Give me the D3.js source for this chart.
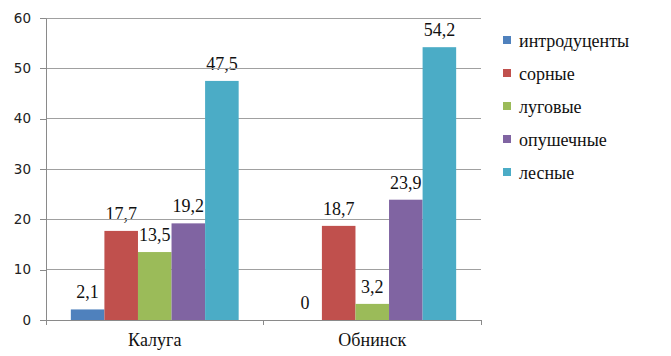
<!DOCTYPE html>
<html>
<head>
<meta charset="utf-8">
<script src="https://cdn.jsdelivr.net/npm/d3@7"></script>
<style>
  body { margin: 0; background: #fff; }
  svg { font-family: "Liberation Serif", "Times New Roman", serif; }
</style>
</head>
<body>
<div id="main"></div>
<script>
var cities = ["Калуга", "Обнинск"];
var groups = ["интродуценты", "сорные", "луговые", "опушечные", "лесные"];
var colors = ["#4F81BD", "#C0504D", "#9BBB59", "#8064A2", "#4BACC6"];
var introduced = [2.1, 0];
var weeds = [17.7, 18.7];
var meadow = [13.5, 3.2];
var forestEdge = [19.2, 23.9];
var forest = [47.5, 54.2];
var yTicks = [0, 10, 20, 30, 40, 50, 60];

var ctx = {
    w: 671,
    h: 356,
    left: 46,
    right: 481,
    top: 18,
    bottom: 320,
    serif: "Liberation Serif",
    sans: "DejaVu Sans"
};

var seriesValues = [introduced, weeds, meadow, forestEdge, forest];

// flat list: one item per city/group pair
var cells = [];
cities.forEach(function(c, ci){
    groups.forEach(function(g, gi){
        cells.push({city: c, group: g, value: seriesValues[gi][ci], color: colors[gi]});
    });
});

var svgEl = d3.select("#main").append("svg")
    .attr("width", ctx.w)
    .attr("height", ctx.h);

var y = d3.scaleLinear().domain([0, 60]).range([ctx.bottom, ctx.top]);
var x0 = d3.scaleBand().domain(cities).range([ctx.left, ctx.right]);
var x1 = d3.scaleBand().domain(groups).range([0, x0.bandwidth()]).paddingOuter(0.74);
var legY = d3.scalePoint().domain(groups).range([40, 172]);

// all serif text first (labels never sit on top of the bars)
svgEl.append("g").selectAll("text").data(cities).enter().append("text")
    .attr("text-anchor", "middle")
    .attr("x", d => x0(d) + x0.bandwidth() / 2)
    .attr("y", 346)
    .attr("font-family", ctx.serif)
    .style("font-size", "18px").attr("fill", "#111")
    .text(d => d);

svgEl.append("g").selectAll("text").data(cells).enter().append("text")
    .attr("text-anchor", "middle")
    .attr("x", d => x0(d.city) + x1(d.group) + x1.bandwidth() / 2)
    .attr("y", d => y(d.value) - 11)
    .attr("font-family", ctx.serif)
    .style("font-size", "18px").attr("fill", "#111")
    .text(d => String(d.value).replace(".", ","));

svgEl.append("g").selectAll("text").data(groups).enter().append("text")
    .attr("x", 519).attr("y", d => legY(d) + 7)
    .attr("font-family", ctx.serif)
    .style("font-size", "18px").attr("fill", "#111")
    .text(d => d);

// grid
svgEl.append("g").selectAll("line").data(yTicks.slice(1)).enter().append("line")
    .attr("x1", ctx.left).attr("x2", ctx.right)
    .attr("y1", d => y(d)).attr("y2", d => y(d))
    .attr("stroke", "#a0a0a0").attr("stroke-width", 1)
    .attr("shape-rendering", "crispEdges");

// y axis
var yAxis = svgEl.append("g")
    .attr("transform", "translate(" + ctx.left + ",0)")
    .call(d3.axisLeft(y).tickValues(yTicks).tickSize(6).tickPadding(9).tickSizeOuter(0));
yAxis.select(".domain").attr("stroke", "#8a8a8a");
yAxis.selectAll(".tick line").attr("stroke", "#8a8a8a").attr("shape-rendering", "crispEdges");
yAxis.selectAll(".tick text")
    .style("font-family", ctx.sans).style("font-size", "13.5px").attr("fill", "#222");

// x axis line and boundary ticks
svgEl.append("line")
    .attr("x1", ctx.left).attr("x2", ctx.right)
    .attr("y1", ctx.bottom).attr("y2", ctx.bottom)
    .attr("stroke", "#8a8a8a").attr("shape-rendering", "crispEdges");
var bounds = cities.map(c => x0(c)).concat([x0(cities[cities.length - 1]) + x0.bandwidth()]);
svgEl.append("g").selectAll("line").data(bounds).enter().append("line")
    .attr("x1", d => d).attr("x2", d => d)
    .attr("y1", ctx.bottom).attr("y2", ctx.bottom + 5)
    .attr("stroke", "#8a8a8a").attr("shape-rendering", "crispEdges");

// bars
svgEl.append("g").selectAll("rect").data(cells).enter().append("rect")
    .attr("x", d => x0(d.city) + x1(d.group))
    .attr("width", x1.bandwidth())
    .attr("y", d => y(d.value))
    .attr("height", d => y(0) - y(d.value))
    .attr("fill", d => d.color);

// legend swatches
svgEl.append("g").selectAll("rect").data(groups).enter().append("rect")
    .attr("x", 503).attr("y", d => legY(d) - 4)
    .attr("width", 8).attr("height", 8)
    .attr("fill", (d, i) => colors[i]);
</script>
</body>
</html>
